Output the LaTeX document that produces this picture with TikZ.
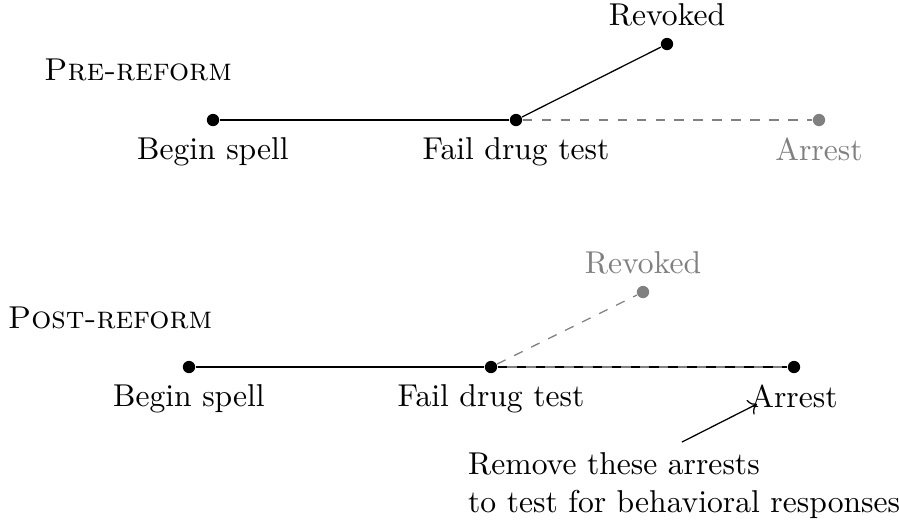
\documentclass[tikz,border=0pt]{standalone}
\usetikzlibrary{arrows.meta}
\begin{document}
\begin{tikzpicture}[x=0.011123cm,y=-0.011123cm,
  dot/.style={circle,fill,inner sep=0pt,minimum size=3.9pt},
  gdot/.style={dot,fill=gray},
  grayline/.style={gray,dashed},
  lab/.style={},
  glab/.style={text=gray}]
\useasboundingbox (0,0) rectangle (899,524);
% Pre-reform
\node at (138,70) {\textsc{Pre-reform}};
\node[dot,label={[lab]below:Begin spell}] (bs1) at (213,120) {};
\node[dot,label={[lab]below:Fail drug test}] (fd1) at (516,120) {};
\node[dot,label={[lab]above:Revoked}] (rv1) at (667,44) {};
\node[gdot,label={[glab]below:Arrest}] (ar1) at (819,120) {};
\draw (bs1) -- (fd1);
\draw (fd1) -- (rv1);
\draw[grayline] (fd1) -- (ar1);
% Post-reform
\node at (110,318) {\textsc{Post-reform}};
\node[dot,label={[lab]below:Begin spell}] (bs2) at (189,367) {};
\node[dot,label={[lab]below:Fail drug test}] (fd2) at (491,367) {};
\node[gdot,label={[glab]above:Revoked}] (rv2) at (643,292) {};
\node[dot,label={[lab]below:Arrest}] (ar2) at (794,367) {};
\draw (bs2) -- (fd2);
\draw[grayline] (fd2) -- (rv2);
\draw[gray] (fd2) -- (ar2);
\draw[dashed] (fd2) -- (ar2);
% annotation
\node[anchor=base west,align=left] (note) at (457,512) {Remove these arrests\\to test for behavioral responses};
\coordinate (as) at (682,442);
\coordinate (ae) at (757,404);
\draw[->] (as) -- (ae);
\end{tikzpicture}
\end{document}
